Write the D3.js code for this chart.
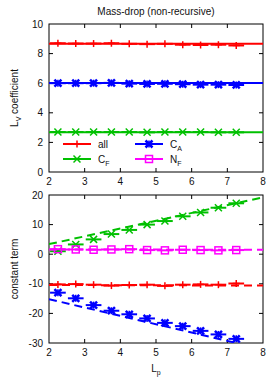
<!DOCTYPE html>
<html>
<head>
<meta charset="utf-8">
<script src="https://cdn.jsdelivr.net/npm/d3@7"></script>
<style>
  body { margin: 0; background: #fff; }
  text { font-family: "Liberation Sans", Arial, sans-serif; font-size: 10px; fill: #111; }
</style>
</head>
<body>
<div id="chart"></div>
<script>
// data
const xs = [2.25, 2.75, 3.25, 3.75, 4.25, 4.75, 5.25, 5.75, 6.25, 6.75, 7.25];

// L_V coefficient (top panel)
const coefAll = [8.70, 8.68, 8.68, 8.70, 8.66, 8.64, 8.66, 8.60, 8.58, 8.60, 8.55];
const coefCA  = [6.00, 6.00, 6.00, 6.02, 5.97, 5.95, 5.96, 5.93, 5.90, 5.90, 5.88];
const coefCF  = [2.70, 2.70, 2.70, 2.70, 2.70, 2.68, 2.70, 2.70, 2.70, 2.68, 2.68];
const fitCoef = {all: 8.66, CA: 6.02, CF: 2.68};

// constant term (bottom panel)
const constAll = [-10.2, -10.1, -10.3, -10.6, -10.4, -10.3, -10.7, -10.3, -10.2, -10.3, -9.9];
const constCA  = [-13.0, -14.9, -17.2, -19.1, -20.3, -21.7, -23.2, -24.3, -25.9, -27.1, -28.6];
const constCF  = [1.0, 3.3, 5.0, 6.8, 8.2, 10.0, 11.2, 12.8, 14.1, 15.7, 17.2];
const constNF  = [1.7, 1.6, 1.5, 1.6, 1.7, 1.4, 1.3, 1.5, 1.4, 1.3, 1.4];
// dashed fits: value at x=2 and x=8
const fitConst = {all: [-10.4, -10.6], CA: [-15.2, -32.1], CF: [3.4, 19.2], NF: [1.6, 1.5]};

const xTicks = [2, 3, 4, 5, 6, 7, 8];
const yTicksTop = [0, 2, 4, 6, 8, 10];
const yTicksBot = [-30, -20, -10, 0, 10, 20];

const col = {all: "#ff0000", CA: "#0000ff", CF: "#00c000", NF: "#ff00ff"};
const halfW = 0.22;

const svg = d3.select("#chart").append("svg")
  .attr("width", 274).attr("height", 381);

const x = d3.scaleLinear().domain([2, 8]).range([49, 263]);
const yTop = d3.scaleLinear().domain([0, 10]).range([172, 24]);
const yBot = d3.scaleLinear().domain([-30, 20]).range([343, 195]);

svg.append("defs").append("clipPath").attr("id", "clipBot")
  .append("rect").attr("x", 49).attr("y", 195).attr("width", 214).attr("height", 148);

// marker shapes (gnuplot style)
function marker(g, kind, cx, cy, c) {
  const s = 3.5;
  const m = g.append("g").attr("stroke", c).attr("fill", "none");
  if (kind === "plus" || kind === "star") {
    m.append("line").attr("x1", cx - s).attr("x2", cx + s).attr("y1", cy).attr("y2", cy).attr("stroke-width", 1.5);
    m.append("line").attr("x1", cx).attr("x2", cx).attr("y1", cy - s).attr("y2", cy + s).attr("stroke-width", 1.5);
  }
  if (kind === "cross" || kind === "star") {
    m.append("line").attr("x1", cx - s).attr("x2", cx + s).attr("y1", cy - s).attr("y2", cy + s).attr("stroke-width", kind === "star" ? 2.5 : 1.5);
    m.append("line").attr("x1", cx - s).attr("x2", cx + s).attr("y1", cy + s).attr("y2", cy - s).attr("stroke-width", kind === "star" ? 2.5 : 1.5);
  }
  if (kind === "box") {
    m.append("rect").attr("x", cx - s).attr("y", cy - s).attr("width", 2 * s).attr("height", 2 * s).attr("stroke-width", 1.5);
  }
}

function series(g, y, vals, c, kind) {
  vals.forEach((v, i) => {
    g.append("line")
      .attr("x1", x(xs[i] - halfW)).attr("x2", x(xs[i] + halfW))
      .attr("y1", y(v)).attr("y2", y(v))
      .attr("stroke", c).attr("stroke-width", 2);
    marker(g, kind, x(xs[i]), y(v), c);
  });
}

function frame(y, ticksY, yTitle, showTitleX) {
  const g = svg.append("g");
  const [x0, x1] = x.range();
  const [yb, yt] = y.range();
  g.append("rect").attr("x", x0).attr("y", yt).attr("width", x1 - x0).attr("height", yb - yt)
    .attr("fill", "none").attr("stroke", "#000").attr("stroke-width", 1);
  xTicks.slice(1, -1).forEach(t => {
    g.append("line").attr("x1", x(t)).attr("x2", x(t)).attr("y1", yb).attr("y2", yb - 4).attr("stroke", "#000");
    g.append("line").attr("x1", x(t)).attr("x2", x(t)).attr("y1", yt).attr("y2", yt + 4).attr("stroke", "#000");
  });
  xTicks.forEach(t => {
    g.append("text").attr("x", x(t)).attr("y", yb + 13).attr("text-anchor", "middle").text(t);
  });
  ticksY.forEach((t, i) => {
    if (i > 0 && i < ticksY.length - 1) {
      g.append("line").attr("x1", x0).attr("x2", x0 + 4).attr("y1", y(t)).attr("y2", y(t)).attr("stroke", "#000");
      g.append("line").attr("x1", x1).attr("x2", x1 - 4).attr("y1", y(t)).attr("y2", y(t)).attr("stroke", "#000");
    }
    g.append("text").attr("x", x0 - 6).attr("y", y(t) + 3.5).attr("text-anchor", "end").text(t);
  });
  const yc = (yb + yt) / 2;
  const tt = g.append("text").attr("transform", `translate(18,${yc}) rotate(-90)`).attr("text-anchor", "middle");
  yTitle(tt);
}

// ---- top panel
frame(yTop, yTicksTop, t => {
  t.append("tspan").text("L");
  t.append("tspan").attr("dy", 3).attr("font-size", "7px").text("V");
  t.append("tspan").attr("dy", -3).text(" coefficient");
});
svg.append("text").attr("x", 156).attr("y", 15).attr("text-anchor", "middle").text("Mass-drop (non-recursive)");

const gTop = svg.append("g");
[["all", coefAll, "plus"], ["CA", coefCA, "star"], ["CF", coefCF, "cross"]].forEach(([k, vals, kind]) => {
  gTop.append("line").attr("x1", x(2)).attr("x2", x(8))
    .attr("y1", yTop(fitCoef[k])).attr("y2", yTop(fitCoef[k]))
    .attr("stroke", col[k]).attr("stroke-width", 2);
  series(gTop, yTop, vals, col[k], kind);
});

// legend
const legend = [
  {k: "all", kind: "plus", label: ["all"], lx: 63, ly: 144},
  {k: "CA", kind: "star", label: ["C", "A"], lx: 135, ly: 144},
  {k: "CF", kind: "cross", label: ["C", "F"], lx: 63, ly: 159},
  {k: "NF", kind: "box", label: ["N", "F"], lx: 135, ly: 159}
];
legend.forEach(d => {
  svg.append("line").attr("x1", d.lx).attr("x2", d.lx + 28).attr("y1", d.ly).attr("y2", d.ly)
    .attr("stroke", col[d.k]).attr("stroke-width", 2);
  marker(svg, d.kind, d.lx + 14, d.ly, col[d.k]);
  const t = svg.append("text").attr("x", d.lx + 35).attr("y", d.ly + 4);
  t.append("tspan").text(d.label[0]);
  if (d.label[1]) t.append("tspan").attr("dy", 3).attr("font-size", "7px").text(d.label[1]);
});

// ---- bottom panel
frame(yBot, yTicksBot, t => t.text("constant term"));
const gBot = svg.append("g").attr("clip-path", "url(#clipBot)");
[["all", constAll, "plus"], ["CA", constCA, "star"], ["CF", constCF, "cross"], ["NF", constNF, "box"]].forEach(([k, vals, kind]) => {
  gBot.append("line").attr("x1", x(2)).attr("x2", x(8))
    .attr("y1", yBot(fitConst[k][0])).attr("y2", yBot(fitConst[k][1]))
    .attr("stroke", col[k]).attr("stroke-width", 2).attr("stroke-dasharray", "8,5");
  series(gBot, yBot, vals, col[k], kind);
});

const xl = svg.append("text").attr("x", 156).attr("y", 372).attr("text-anchor", "middle");
xl.append("tspan").text("L");
xl.append("tspan").attr("dy", 3).attr("font-size", "7px").text("p");
</script>
</body>
</html>
